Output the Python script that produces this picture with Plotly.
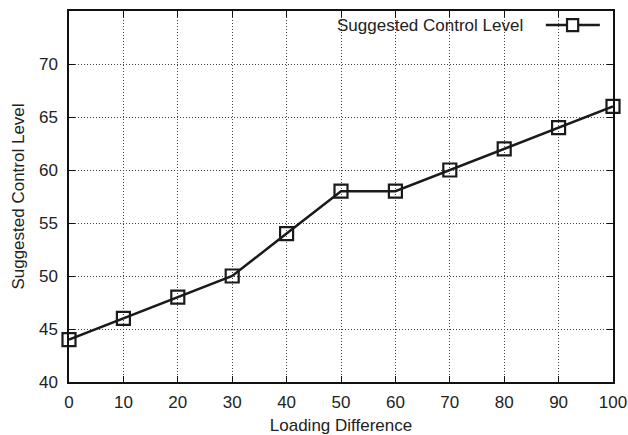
import plotly.graph_objects as go

x_vals = [0, 10, 20, 30, 40, 50, 60, 70, 80, 90, 100]
y_vals = [44, 46, 48, 50, 54, 58, 58, 60, 62, 64, 66]
series_name = "Suggested Control Level"
x_title = "Loading Difference"
y_title = "Suggested Control Level"
y_ticks = [40, 45, 50, 55, 60, 65, 70]
x_ticks = [0, 10, 20, 30, 40, 50, 60, 70, 80, 90, 100]

FONT = "Liberation Sans, Arial, sans-serif"
FS = 17

fig = go.Figure()
fig.add_trace(go.Scatter(
    x=x_vals, y=y_vals, mode="lines+markers", name=series_name,
    line=dict(color="#1a1a1a", width=2.5),
    marker=dict(symbol="square-open", size=13, color="#1a1a1a", line=dict(width=2.2, color="#1a1a1a")),
    showlegend=False, cliponaxis=False,
))

axis_common = dict(
    showline=True, linecolor="#111111", linewidth=1.5, mirror="ticks",
    ticks="inside", ticklen=6, tickcolor="#111111", tickwidth=1,
    showgrid=True, gridcolor="#444444", griddash="1px,2px", gridwidth=1,
    zeroline=False, automargin=False,
    tickfont=dict(family=FONT, size=FS, color="#222222"),
)

fig.update_xaxes(range=[0, 100], tickvals=x_ticks, ticklabelstandoff=4,
                 title=dict(text=x_title, standoff=11, font=dict(family=FONT, size=FS, color="#222222")),
                 **axis_common)
fig.update_yaxes(range=[40, 75], tickvals=y_ticks, ticklabelstandoff=6,
                 title=dict(text=y_title, standoff=10, font=dict(family=FONT, size=FS, color="#222222")),
                 **axis_common)

# legend (symbol to the right of the text)
fig.add_shape(type="rect", xref="paper", yref="paper", x0=0.47, x1=0.995, y0=0.925, y1=1.0,
              fillcolor="white", line=dict(width=0), layer="between")
fig.add_shape(type="line", xref="paper", yref="paper", x0=0.8765, x1=0.9758, y0=0.962, y1=0.962,
              line=dict(color="#1a1a1a", width=2.5))
fig.add_shape(type="rect", xref="paper", yref="paper", x0=0.9155, x1=0.936, y0=0.946, y1=0.978,
              fillcolor="white", line=dict(color="#1a1a1a", width=2.2))
fig.add_annotation(xref="paper", yref="paper", x=0.838, y=0.962, text=series_name, showarrow=False,
                   xanchor="right", yanchor="middle",
                   font=dict(family=FONT, size=FS, color="#222222"))

fig.update_layout(
    width=628, height=435,
    margin=dict(l=69, r=15, t=11, b=53),
    plot_bgcolor="white", paper_bgcolor="white",
)
fig.write_html("out.html", config={"displayModeBar": False},
               post_script="document.body.style.margin='0';document.body.style.overflow='hidden';")
